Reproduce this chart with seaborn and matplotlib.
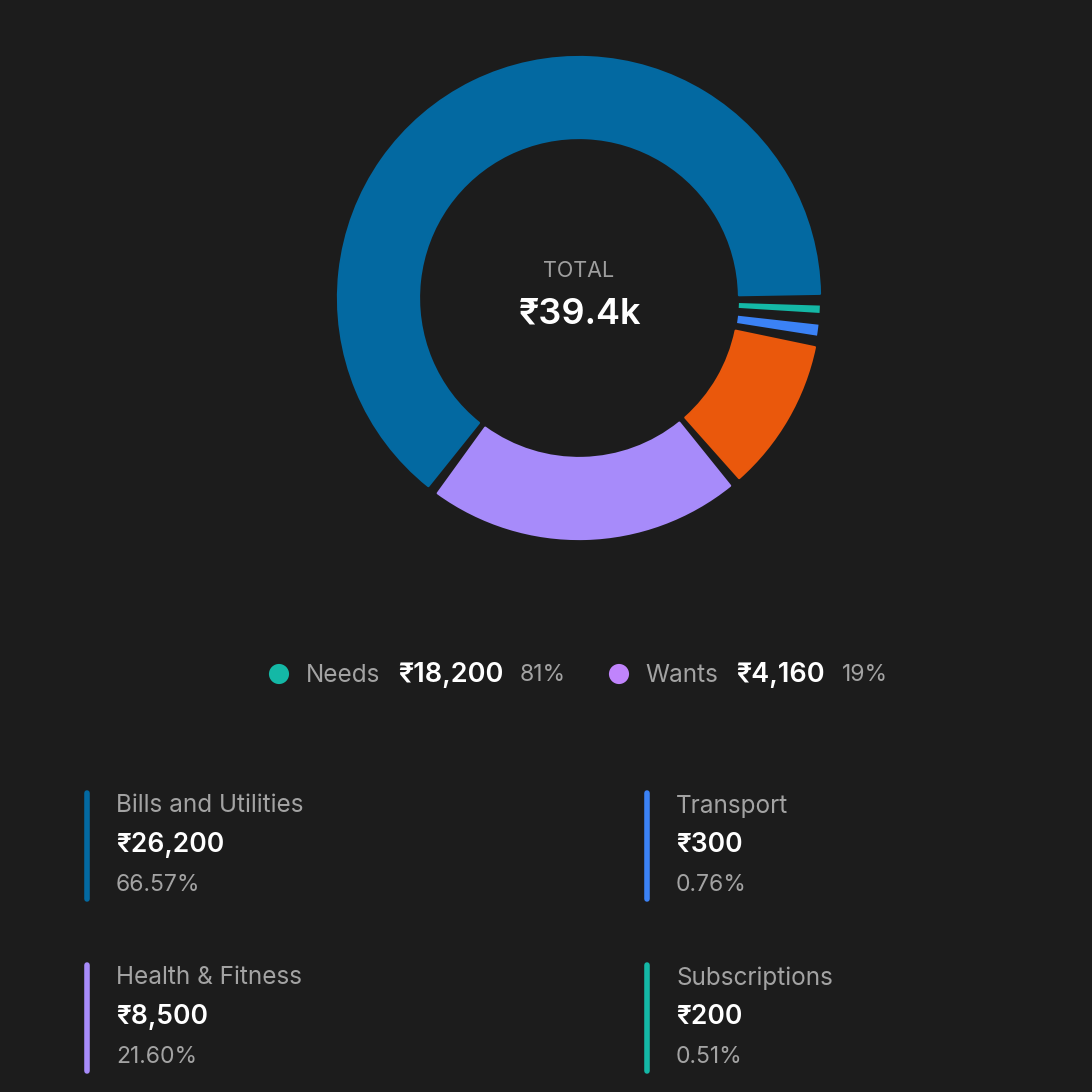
import numpy as np
import matplotlib
matplotlib.use("Agg")
import matplotlib.pyplot as plt
import seaborn as sns

# Spending data
categories = ['Bills and Utilities', 'Health & Fitness', 'Other', 'Transport', 'Subscriptions']
amounts = [26200, 8500, 4160, 300, 200]
shares = ['66.57%', '21.60%', '10.57%', '0.76%', '0.51%']
colors = ['#0369a1', '#a78bfa', '#ea580c', '#3b82f6', '#14b8a6']

total_label = '₹39.4k'

groups = ['Needs', 'Wants']
group_amounts = ['₹18,200', '₹4,160']
group_shares = ['81%', '19%']
group_colors = ['#14b8a6', '#c084fc']

# cards shown below the legend (orange one is off-screen)
card_order = [0, 3, 1, 4]

BG = '#1c1c1c'
GREY = '#a3a3a3'

sns.set_theme(style='dark', rc={'figure.facecolor': BG, 'axes.facecolor': BG})
plt.rcParams['font.family'] = ['Inter', 'Noto Sans', 'DejaVu Sans']

W = 1092
fig = plt.figure(figsize=(W / 100, W / 100), dpi=100)

# overlay axes in pixel coordinates for all the text
ax_bg = fig.add_axes([0, 0, 1, 1])
ax_bg.set_xlim(0, W)
ax_bg.set_ylim(W, 0)
ax_bg.axis('off')

# --- donut ---
cx, cy, r = 579, 298, 241
ax = fig.add_axes([(cx - r) / W, 1 - (cy + r) / W, 2 * r / W, 2 * r / W])
pad_deg = 2.8
total = sum(amounts)
gap = total * pad_deg / (360 - pad_deg * len(amounts))
vals, cols = [], []
for v, c in zip(amounts, colors):
    vals += [v, gap]
    cols += [c, BG]
wedges, _ = ax.pie(vals, colors=cols, startangle=1.0, counterclock=True, radius=1,
                   wedgeprops=dict(width=81 / r, linewidth=0))
for i, w in enumerate(wedges):
    if i % 2:
        w.set_visible(False)
    elif amounts[i // 2] / total > 0.05:
        # rounded corners on the big segments
        w.set_edgecolor(w.get_facecolor())
        w.set_linewidth(1.6)
        w.set_joinstyle('round')
ax.set_xlim(-1, 1)
ax.set_ylim(-1, 1)
ax.set_aspect('equal')
ax.axis('off')

ax_bg.text(579, 271, 'TOTAL', color='#9e9e9e', fontsize=15.5, ha='center', va='center')
ax_bg.text(580, 314, total_label, color='white', fontsize=26, fontweight='semibold',
           ha='center', va='center')

# --- needs / wants legend row ---
dot_x = [279, 619]
name_x = [306, 645]
amt_x = [398, 736]
pct_x = [520, 842]
ly = 675
for i in range(len(groups)):
    ax_bg.scatter([dot_x[i]], [ly - 1], s=210, color=group_colors[i], edgecolor='none')
    ax_bg.text(name_x[i], ly, groups[i], color=GREY, fontsize=17.5, ha='left', va='center')
    ax_bg.text(amt_x[i], ly, group_amounts[i], color='white', fontsize=19.5,
               fontweight='semibold', ha='left', va='center')
    ax_bg.text(pct_x[i], ly, group_shares[i], color=GREY, fontsize=16.5, ha='left', va='center')

# --- category cards ---
col_x = [87, 647]
row_y = [790, 962]
for k, idx in enumerate(card_order):
    bx = col_x[k % 2]
    by = row_y[k // 2]
    ax_bg.plot([bx, bx], [by + 3, by + 109], color=colors[idx], lw=4, solid_capstyle='round')
    ax_bg.text(bx + 29, by + 16, categories[idx], color=GREY, fontsize=17.5, ha='left', va='center')
    ax_bg.text(bx + 29, by + 55, f'₹{amounts[idx]:,}', color='white', fontsize=19,
               fontweight='semibold', ha='left', va='center')
    ax_bg.text(bx + 29, by + 95, shares[idx], color=GREY, fontsize=16.5, ha='left', va='center')

fig.savefig('out.png', dpi=100, facecolor=BG)
